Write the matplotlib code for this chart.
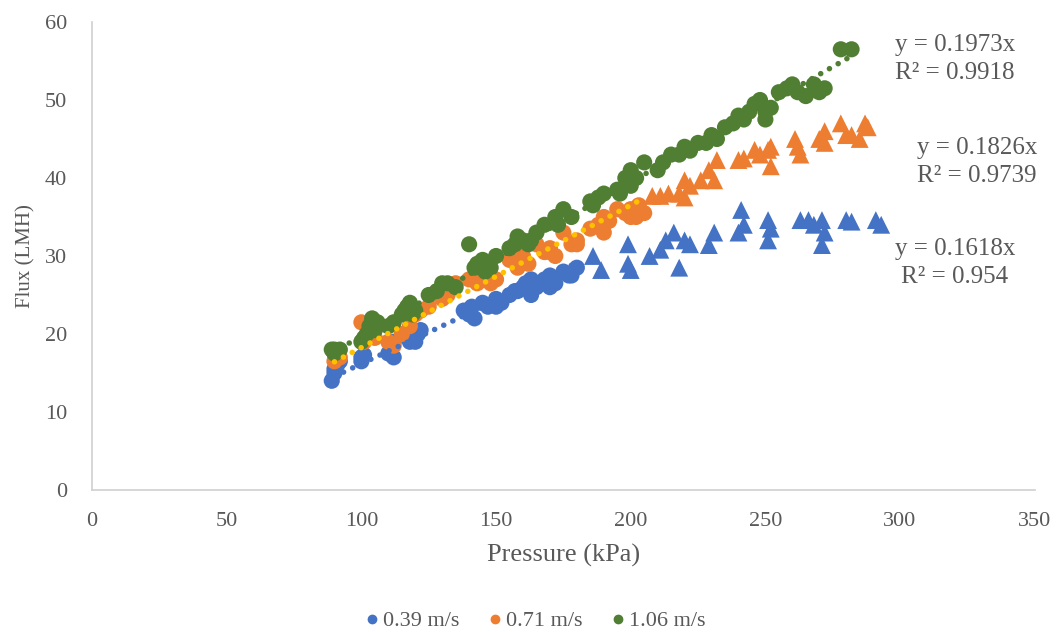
import matplotlib
matplotlib.use("Agg")
import matplotlib.pyplot as plt
import numpy as np

plt.rcParams['font.family'] = ['Liberation Serif', 'DejaVu Serif']

# 0.39 m/s series
blue_circ_x = [89, 90, 90, 91, 92, 100, 100, 101, 110, 111, 112, 112, 118, 120, 120, 121, 122,
               138, 140, 141, 142, 145, 147, 150, 150, 152, 155, 157, 158, 160, 161, 163, 163,
               165, 168, 170, 170, 172, 175, 177, 178, 180]
blue_circ_y = [14, 15, 15.5, 16, 16.5, 17, 16.5, 17.3, 17.5, 18.2, 19, 17, 19, 19.5, 19, 20,
               20.5, 23, 22.5, 23.5, 22, 24, 23.5, 24.5, 23.5, 24, 25, 25.5, 25.5, 26, 26.5,
               27, 25, 26, 27, 27.5, 26, 26.5, 28, 27.5, 27.5, 28.5]
blue_tri_x = [186, 189, 199, 199, 200, 207, 211, 213, 216, 218, 220, 222, 229, 231, 240, 241,
              242, 251, 251, 252, 263, 266, 268, 271, 272, 271, 280, 282, 291, 293]
blue_tri_y = [30, 28.2, 31.5, 29, 28.2, 30, 30.8, 32, 33, 28.5, 32, 31.5, 31.4, 33, 33, 35.9,
              34, 32, 34.6, 33.5, 34.6, 34.6, 34, 34.6, 33, 31.4, 34.6, 34.4, 34.6, 34]

# 0.71 m/s series
orange_circ_x = [90, 90, 92, 100, 101, 103, 105, 110, 112, 115, 118, 120, 122, 125, 130, 132,
                 135, 140, 143, 145, 148, 150, 155, 158, 160, 162, 165, 168, 170, 170, 172,
                 175, 178, 180, 180, 185, 188, 190, 190, 192, 195, 198, 200, 200, 202, 203, 205]
orange_circ_y = [16.5, 17.5, 17, 21.5, 19, 20, 19.5, 19, 18.5, 20, 21, 22.5, 23, 23.5, 24.5, 25,
                 26.5, 27, 26.5, 27, 26.5, 27, 29.5, 28.5, 30, 29, 31.5, 30.5, 31, 30.5, 30,
                 33, 31.5, 32, 31.5, 33.5, 34, 33, 35, 34.5, 36, 35.5, 36, 35, 35, 36.5, 35.5]
orange_tri_x = [208, 211, 214, 218, 220, 220, 222, 226, 229, 231, 232, 240, 242, 246, 248, 251,
                252, 252, 261, 262, 263, 270, 272, 272, 278, 280, 282, 285, 287, 288]
orange_tri_y = [37.7, 37.7, 38, 38, 39.7, 37.5, 39, 39.7, 41, 39.7, 42.3, 42.3, 42.5, 43.6, 43,
                43.6, 41.5, 44, 45, 44, 43, 45, 46, 44.5, 47, 45.5, 45.5, 45, 47, 46.5]

# 1.06 m/s series
green_x = [89, 92, 90, 90, 100, 101, 102, 103, 104, 105, 106, 110, 112, 115, 116, 117, 118,
           119, 120, 125, 128, 130, 132, 135, 140, 142, 143, 145, 146, 148, 150, 155, 157,
           158, 160, 162, 163, 165, 168, 172, 173, 175, 178, 185, 186, 188, 190, 195, 196,
           198, 200, 200, 202, 205, 210, 212, 215, 218, 220, 222, 225, 228, 230, 232, 235,
           238, 240, 242, 244, 246, 248, 250, 250, 252, 255, 258, 260, 262, 265, 268, 270,
           272, 278, 282]
green_y = [18, 18, 17.5, 18, 19, 19.5, 20, 21, 22, 20.5, 21.5, 21, 21.5, 22.5, 23, 23.5, 24,
           22.5, 23, 25, 25.5, 26.5, 26.5, 26, 31.5, 28.5, 29, 29.5, 28, 28.5, 30, 31, 31.5,
           32.5, 32, 31.5, 32, 33, 34, 35, 34, 36, 35, 37, 36.5, 37.5, 38, 38.5, 38,
           40, 41, 39, 40, 42, 41, 42, 43, 43, 44, 43.5, 44.5, 44.5, 45.5, 45, 46.5,
           47, 48, 47.5, 48.5, 49.5, 50, 48.5, 47.5, 49, 51, 51.5, 52, 51, 50.5, 52, 51,
           51.5, 56.5, 56.5]

slopes = [0.1618, 0.1826, 0.1973]
r2_vals = [0.954, 0.9739, 0.9918]
labels = ['0.39 m/s', '0.71 m/s', '1.06 m/s']
fit_ranges = [(90, 180), (90, 205), (89, 282)]

c_blue = '#4472C4'
c_orange = '#ED7D31'
c_green = '#507E32'
c_gold = '#FFC000'
c_text = '#595959'

fig = plt.figure(figsize=(10.58, 6.32), dpi=100)
ax = fig.add_axes([0.087, 0.2247, 0.891, 0.7405])

ms_c = 135
ms_t = 165
ax.scatter(blue_circ_x, blue_circ_y, s=ms_c, marker='o', color=c_blue, edgecolors='none', zorder=3)
ax.scatter(blue_tri_x, blue_tri_y, s=ms_t, marker='^', color=c_blue, edgecolors='none', zorder=3)
ax.scatter(orange_circ_x, orange_circ_y, s=ms_c, marker='o', color=c_orange, edgecolors='none', zorder=3)
ax.scatter(orange_tri_x, orange_tri_y, s=ms_t, marker='^', color=c_orange, edgecolors='none', zorder=3)
ax.scatter(green_x, green_y, s=ms_c, marker='o', color=c_green, edgecolors='none', zorder=3)

# Linear trendlines through the origin, drawn as round dots
for (x0, x1), k, col in zip(fit_ranges, slopes, [c_blue, c_gold, c_green]):
    xs = np.array([x0, x1])
    ax.plot(xs, k * xs, linestyle=(0, (0.01, 1.8)), linewidth=4.0, color=col, zorder=4,
            dash_capstyle='round', solid_capstyle='round')

# Trendline equations
txt_kw = dict(fontsize=18, color=c_text, ha='center', va='center')
eq_pos = [(955, 263), (977, 162), (955, 59)]
for (px, py), k, r2 in zip(eq_pos, slopes, r2_vals):
    xd = px / 1058
    yd = 1 - py / 632
    fig.text(xd, yd + 0.022, f'y = {k:.4f}x', **txt_kw)
    fig.text(xd, yd - 0.022, f'R² = {r2}', **txt_kw)

ax.set_xlim(0, 350)
ax.set_ylim(0, 60)
ax.set_xticks(np.arange(0, 351, 50))
ax.set_yticks(np.arange(0, 61, 10))
ax.tick_params(length=0, labelsize=16, colors=c_text)
ax.tick_params(axis='x', pad=16)
ax.tick_params(axis='y', pad=18)
for side in ['top', 'right']:
    ax.spines[side].set_visible(False)
for side in ['left', 'bottom']:
    ax.spines[side].set_color('#D0D0D0')
    ax.spines[side].set_linewidth(1.2)

ax.set_xlabel('Pressure (kPa)', fontsize=19, color=c_text, labelpad=9)
ax.set_ylabel('Flux (LMH)', fontsize=15, color=c_text, labelpad=7)

handles = [plt.Line2D([], [], marker='o', linestyle='none', markersize=6, color=c)
           for c in [c_blue, c_orange, c_green]]
fig.legend(handles, labels, loc='center', bbox_to_anchor=(0.505, 1 - 621 / 632), ncol=3,
           frameon=False, fontsize=16, handletextpad=0.1, columnspacing=1.2,
           labelcolor=c_text, handlelength=0.8)

fig.savefig('out.png', dpi=100)
